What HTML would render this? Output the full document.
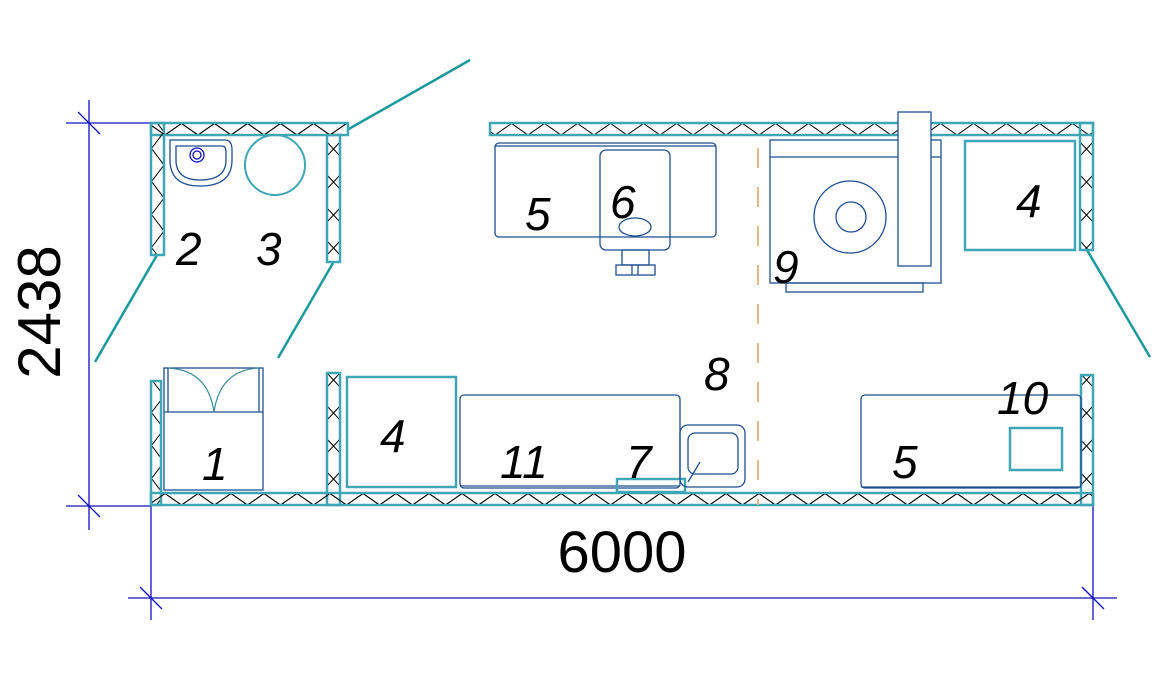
<!DOCTYPE html>
<html><head><meta charset="utf-8"><style>
html,body{margin:0;padding:0;background:#fff;}
svg{display:block}
.w{stroke:#3fa6b5;stroke-width:2.5}
.lb{font-family:"Liberation Sans",sans-serif;font-style:italic;font-size:46px;fill:#000;}
.b{fill:none;stroke:#1f4f8f;stroke-width:1.3}
.t{fill:none;stroke:#3fa6b5;stroke-width:2.5}
</style></head><body>
<svg width="1160" height="681" viewBox="0 0 1160 681" xmlns="http://www.w3.org/2000/svg">
<defs>
<pattern id="ht" x="0" y="123" width="33" height="12" patternUnits="userSpaceOnUse"><path d="M0,12 L16.5,0.5 L33,12" fill="none" stroke="#000" stroke-width="1"/></pattern>
<pattern id="hb" x="0" y="493" width="33" height="12" patternUnits="userSpaceOnUse"><path d="M0,0.5 L16.5,12 L33,0.5" fill="none" stroke="#000" stroke-width="1"/></pattern>
<pattern id="vl" x="151" y="0" width="13" height="33" patternUnits="userSpaceOnUse"><path d="M13,0 L0.5,16.5 L13,33" fill="none" stroke="#000" stroke-width="1"/></pattern>
<pattern id="vx" x="327" y="0" width="13" height="33" patternUnits="userSpaceOnUse"><path d="M0,10 L13,24 M13,10 L0,24" fill="none" stroke="#000" stroke-width="1"/></pattern>
<pattern id="vr" x="1080" y="0" width="13" height="33" patternUnits="userSpaceOnUse"><path d="M0,10 L13,24 M13,10 L0,24" fill="none" stroke="#000" stroke-width="1"/></pattern>
</defs>

<!-- dimension lines -->
<g stroke="#1010c0" stroke-width="1.3" fill="none">
<line x1="89" y1="100" x2="89" y2="530"/>
<line x1="66" y1="123" x2="151" y2="123"/>
<line x1="66" y1="506" x2="151" y2="506"/>
<line x1="78" y1="112" x2="100" y2="134"/>
<line x1="78" y1="495" x2="100" y2="517"/>
<line x1="128" y1="598" x2="1117" y2="598"/>
<line x1="151" y1="506" x2="151" y2="620"/>
<line x1="1093" y1="506" x2="1093" y2="620"/>
<line x1="140" y1="587" x2="162" y2="609"/>
<line x1="1082" y1="587" x2="1104" y2="609"/>
</g>
<text x="44" y="312" transform="rotate(-90 44 312)" text-anchor="middle" dominant-baseline="middle" font-family="Liberation Sans,sans-serif" font-size="60" fill="#000">2438</text>
<text x="622" y="572" text-anchor="middle" font-family="Liberation Sans,sans-serif" font-size="58" fill="#000">6000</text>

<!-- doors -->
<g stroke="#1a9a9a" stroke-width="2.5">
<line x1="347" y1="130" x2="470" y2="60"/>
<line x1="157" y1="255" x2="95" y2="362"/>
<line x1="333" y1="263" x2="278" y2="358"/>
<line x1="1087" y1="250" x2="1150" y2="357"/>
</g>

<!-- walls -->
<rect class="w" x="151" y="123" width="197" height="12" fill="url(#ht)"/>
<rect class="w" x="151" y="123" width="13" height="132" fill="url(#vl)"/>
<rect class="w" x="327" y="135" width="13" height="127" fill="url(#vx)"/>
<rect x="152" y="124" width="195" height="10" fill="url(#ht)"/>
<rect class="w" x="490" y="123" width="603" height="12" fill="url(#ht)"/>
<rect class="w" x="1080" y="123" width="13" height="127" fill="url(#vr)"/>
<rect class="w" x="151" y="493" width="942" height="12" fill="url(#hb)"/>
<rect class="w" x="151" y="381" width="10" height="124" fill="url(#vl)"/>
<rect class="w" x="327" y="373" width="13" height="132" fill="url(#vx)"/>
<rect class="w" x="1081" y="375" width="12" height="130" fill="url(#vr)"/>
<rect x="152" y="494" width="940" height="10" fill="url(#hb)"/>

<!-- sink 2 -->
<path class="b" d="M170,140 H225 Q232,140 232,150 V160 Q232,186 200,186 Q170,186 170,160 Z"/>
<path class="b" d="M176,146 H222 Q226,146 226,152 V160 Q226,180 200,180 Q176,180 176,160 Z"/>
<circle cx="197" cy="155" r="7" fill="none" stroke="#1010c0" stroke-width="1.3"/>
<circle cx="197" cy="155" r="4" fill="none" stroke="#1010c0" stroke-width="1.3"/>
<!-- circle 3 -->
<circle cx="275" cy="165" r="30" fill="none" stroke="#3fa6b5" stroke-width="2"/>

<!-- top mid -->
<rect class="b" x="495" y="143" width="221" height="94" rx="4"/>
<line class="b" x1="495" y1="146" x2="716" y2="146"/>
<rect class="b" x="600" y="150" width="70" height="100" rx="6"/>
<ellipse class="b" cx="635" cy="227" rx="16" ry="9"/>
<rect class="b" x="622" y="250" width="27" height="15"/>
<rect class="b" x="616" y="265" width="39" height="10"/>
<line class="b" x1="632" y1="265" x2="632" y2="275"/><line class="b" x1="638" y1="265" x2="638" y2="275"/>

<!-- dashed -->
<line x1="758" y1="148" x2="758" y2="505" stroke="#e2b98a" stroke-width="2" stroke-dasharray="20,19"/>

<!-- unit 9 -->
<rect class="b" x="770" y="140" width="171" height="143"/>
<line class="b" x1="770" y1="157" x2="941" y2="157"/>
<circle class="b" cx="850" cy="217" r="36"/>
<circle class="b" cx="851" cy="217" r="15"/>
<rect x="898" y="112" width="33" height="154" fill="#fff" stroke="#1f4f8f" stroke-width="1.3"/>
<rect class="b" x="786" y="283" width="137" height="9"/>
<!-- 4 right -->
<rect class="t" x="965" y="141" width="110" height="109"/>

<!-- bottom left -->
<rect class="b" x="164" y="368" width="99" height="122"/>
<line class="b" x1="164" y1="412" x2="263" y2="412"/>
<line class="b" x1="168" y1="368" x2="168" y2="412"/>
<line class="b" x1="259" y1="368" x2="259" y2="412"/>
<path d="M168,368 Q208,370 214,412 Q220,370 259,368" fill="none" stroke="#3a8a9a" stroke-width="1.2"/>
<rect class="t" x="347" y="377" width="109" height="110"/>
<rect class="b" x="460" y="395" width="220" height="93" rx="4"/>
<line class="b" x1="460" y1="486" x2="680" y2="486"/>
<rect class="t" x="617" y="479" width="68" height="13"/>
<rect class="b" x="680" y="425" width="65" height="62" rx="8"/>
<rect class="b" x="688" y="433" width="50" height="41" rx="7"/>
<line class="b" x1="688" y1="482" x2="700" y2="462"/>

<!-- bottom right -->
<rect class="b" x="861" y="395" width="220" height="93" rx="4"/>
<line class="b" x1="861" y1="487" x2="1081" y2="487"/>
<rect class="t" x="1010" y="428" width="52" height="42"/>

<!-- labels -->
<text class="lb" x="176" y="265">2</text>
<text class="lb" x="256" y="265">3</text>
<text class="lb" x="525" y="230">5</text>
<text class="lb" x="610" y="218">6</text>
<text class="lb" x="773" y="283">9</text>
<text class="lb" x="1016" y="217">4</text>
<text class="lb" x="704" y="390">8</text>
<text class="lb" x="997" y="414">10</text>
<text class="lb" x="202" y="480">1</text>
<text class="lb" x="380" y="452">4</text>
<text class="lb" x="500" y="478">11</text>
<text class="lb" x="626" y="478">7</text>
<text class="lb" x="892" y="478">5</text>
</svg>
</body></html>
